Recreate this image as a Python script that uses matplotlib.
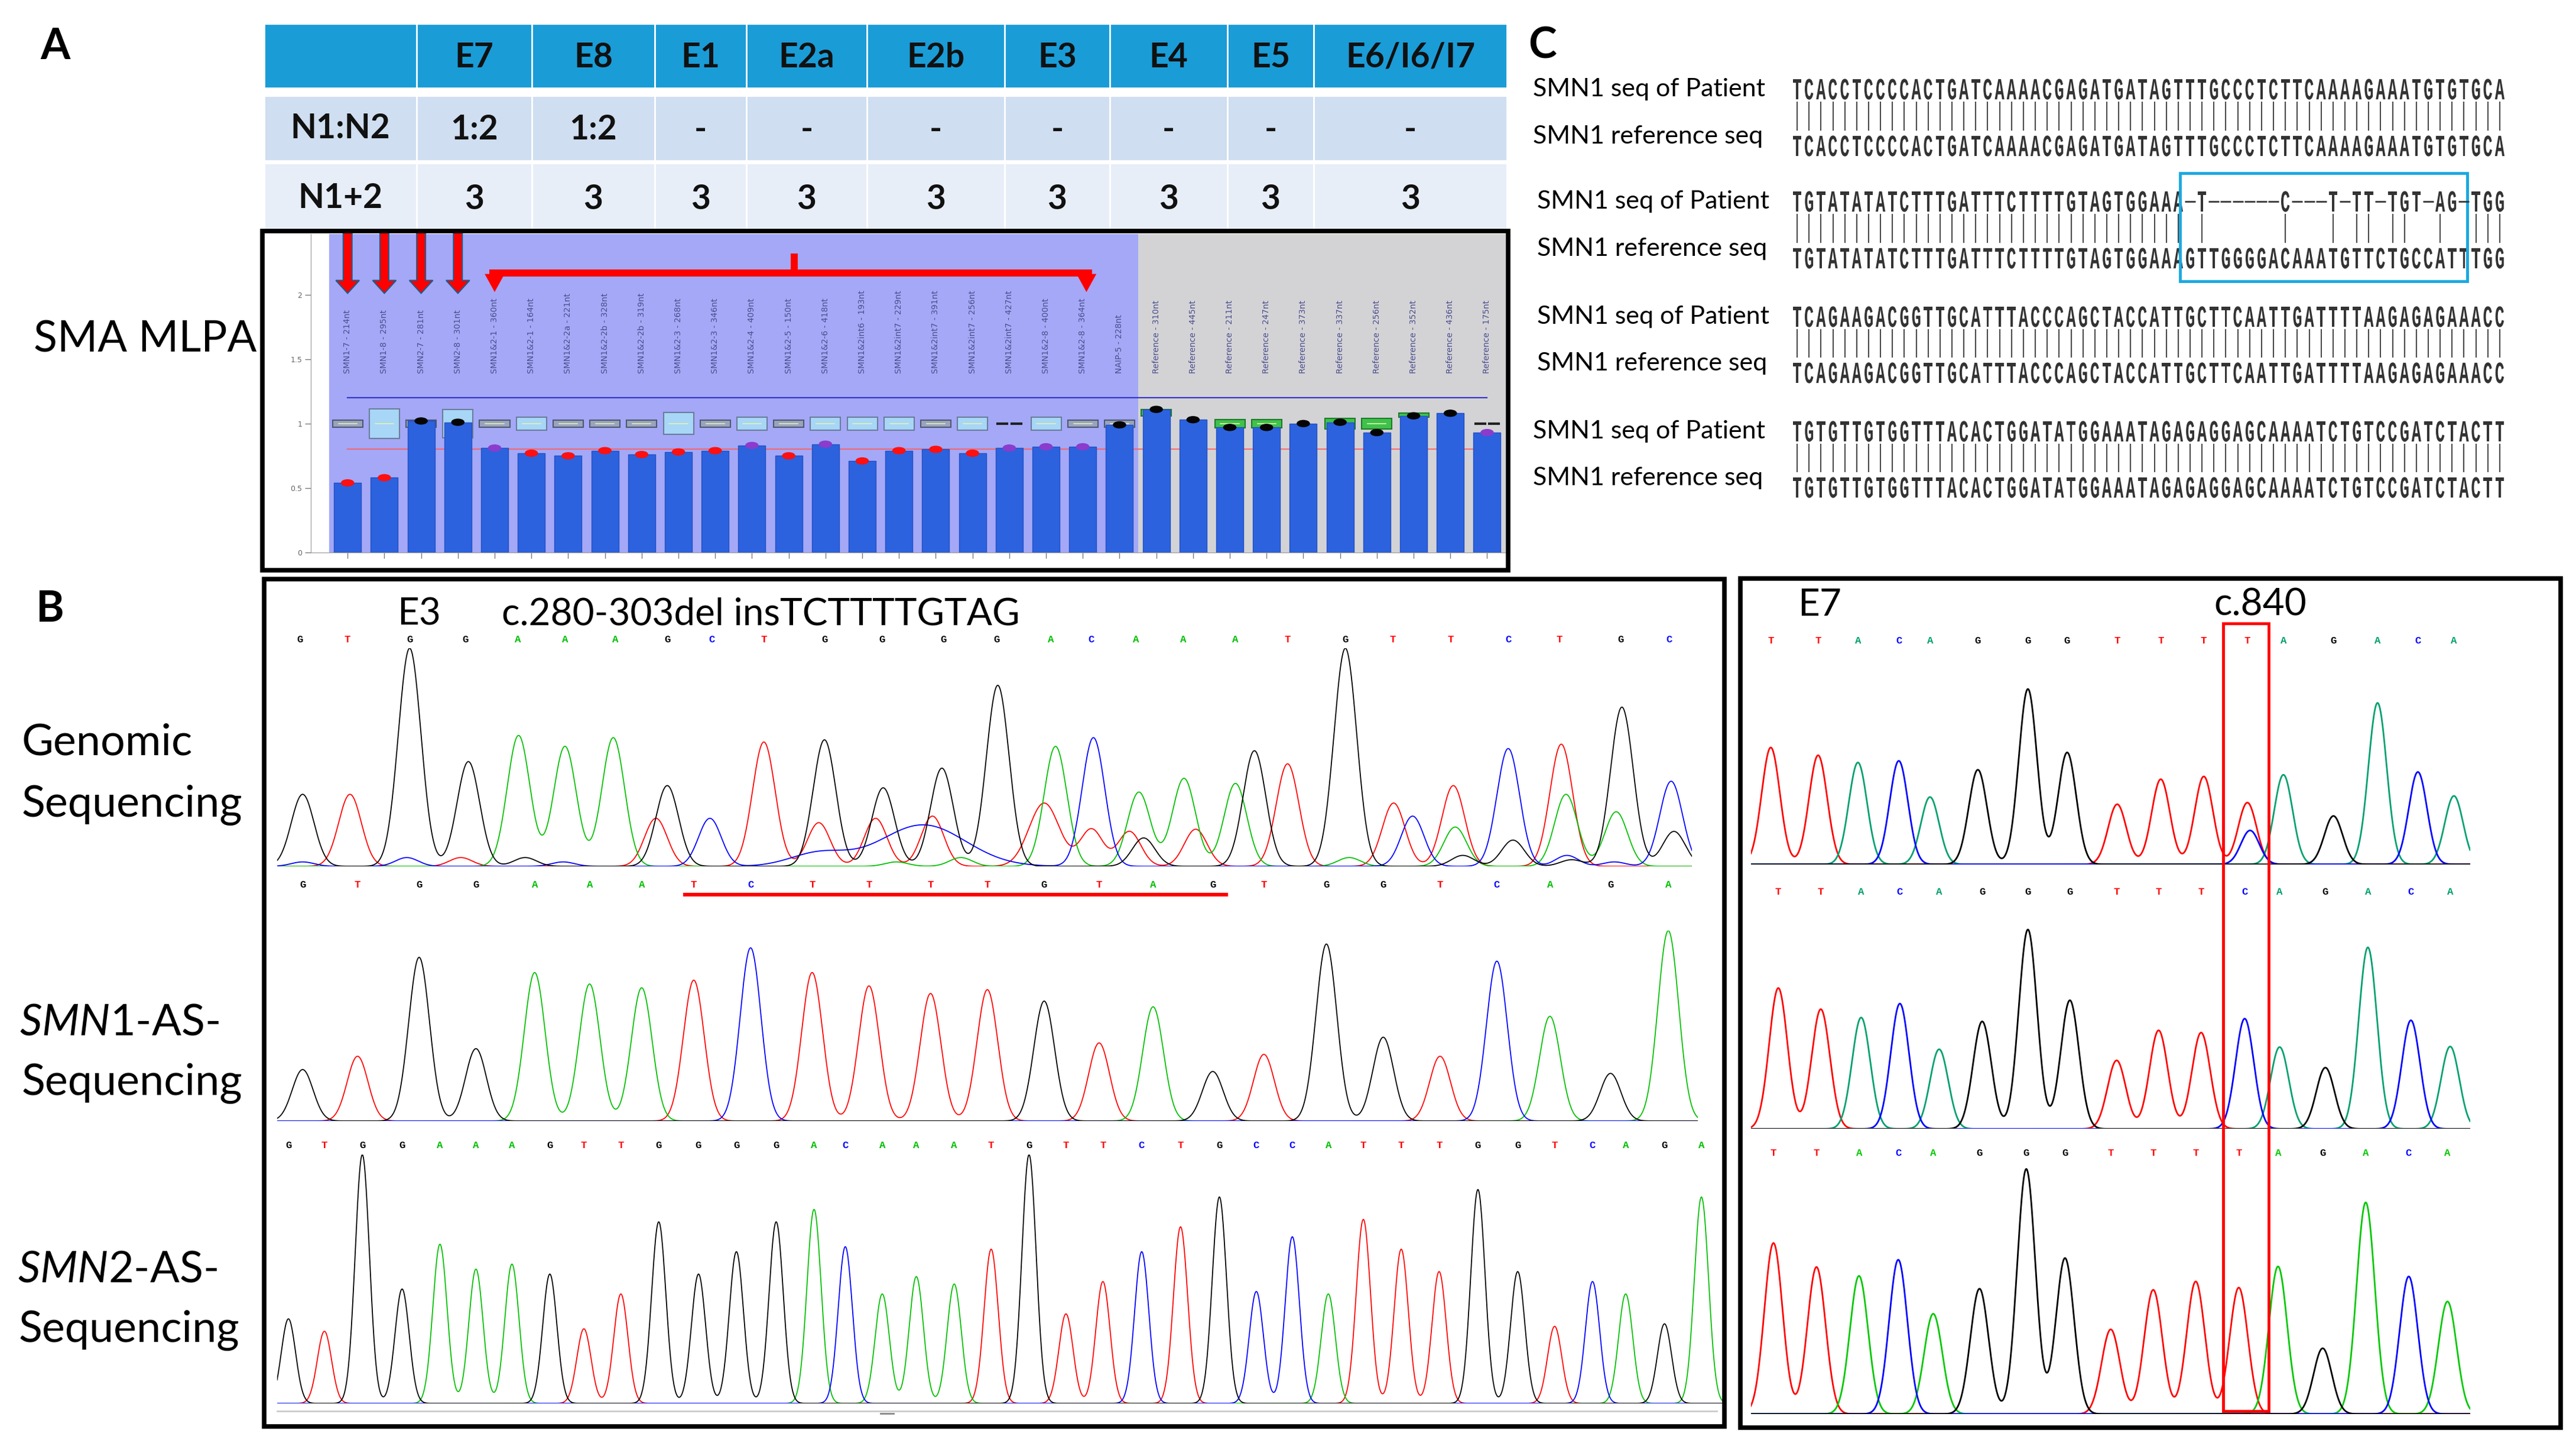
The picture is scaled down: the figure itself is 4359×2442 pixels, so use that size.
import numpy as np
import matplotlib.pyplot as plt
from matplotlib.patches import Rectangle, Polygon, PathPatch, Ellipse
from matplotlib.textpath import TextPath
from matplotlib.font_manager import FontProperties
from matplotlib.transforms import Affine2D

plt.rcParams['font.family'] = ['Lato', 'DejaVu Sans']
plt.rcParams['mathtext.fontset'] = 'custom'
plt.rcParams['mathtext.it'] = 'Lato:italic'
plt.rcParams['mathtext.rm'] = 'Lato'

# ---------------- data ----------------
# A: copy number table
exons = ['E7', 'E8', 'E1', 'E2a', 'E2b', 'E3', 'E4', 'E5', 'E6/I6/I7']
n1_n2 = ['1:2', '1:2', '-', '-', '-', '-', '-', '-', '-']
n1_plus_n2 = ['3', '3', '3', '3', '3', '3', '3', '3', '3']

# A: MLPA ratios
probes = ['SMN1-7 - 214nt', 'SMN1-8 - 295nt', 'SMN2-7 - 281nt', 'SMN2-8 - 301nt',
          'SMN1&2-1 - 360nt', 'SMN1&2-1 - 164nt', 'SMN1&2-2a - 221nt', 'SMN1&2-2b - 328nt',
          'SMN1&2-2b - 319nt', 'SMN1&2-3 - 268nt', 'SMN1&2-3 - 346nt', 'SMN1&2-4 - 409nt',
          'SMN1&2-5 - 150nt', 'SMN1&2-6 - 418nt', 'SMN1&2int6 - 193nt', 'SMN1&2int7 - 229nt',
          'SMN1&2int7 - 391nt', 'SMN1&2int7 - 256nt', 'SMN1&2int7 - 427nt', 'SMN1&2-8 - 400nt',
          'SMN1&2-8 - 364nt', 'NAIP-5 - 228nt',
          'Reference - 310nt', 'Reference - 445nt', 'Reference - 211nt', 'Reference - 247nt',
          'Reference - 373nt', 'Reference - 337nt', 'Reference - 256nt', 'Reference - 352nt',
          'Reference - 436nt', 'Reference - 175nt']
ratio = [0.54, 0.58, 1.02, 1.01, 0.81, 0.77, 0.75, 0.79, 0.76, 0.78, 0.79, 0.83, 0.75, 0.84,
         0.71, 0.79, 0.80, 0.77, 0.81, 0.82, 0.82, 0.99, 1.11, 1.03, 0.97, 0.97, 1.00, 1.01,
         0.93, 1.06, 1.08, 0.93]
dot_kind = 'rrkkprrrrrrprprrrrpppk' + 'kkkkkkkkk' + 'p'
box_lo = [0.972, 0.885, 0.972, 0.89, 0.972, 0.95, 0.972, 0.972, 0.972, 0.915, 0.972, 0.95,
          0.972, 0.95, 0.95, 0.95, 0.972, 0.95, 1.0, 0.95, 0.972, 0.972,
          1.06, 1.0, 0.965, 0.965, 1.0, 0.96, 0.96, 1.05, 1.0, 1.0]
box_hi = [1.028, 1.115, 1.028, 1.11, 1.028, 1.05, 1.028, 1.028, 1.028, 1.085, 1.028, 1.05,
          1.028, 1.05, 1.05, 1.05, 1.028, 1.05, 1.0, 1.05, 1.028, 1.028,
          1.11, 1.0, 1.03, 1.03, 1.0, 1.04, 1.04, 1.08, 1.0, 1.0]
box_kind = 'gbgbgbgggbgbgbbbgbdbgg' + 'G-GG-GGG-d'
upper_limit = 1.2
lower_limit = 0.8

# B: genomic sequencing (mixed trace)
gen_calls = 'GTGGAAAGCTGGGGACAAATGTTCTGC'
gen_call_scan = [42, 92, 158, 217, 272, 322, 375, 430, 477, 532, 596, 657, 722, 778, 835, 878,
                 925, 975, 1030, 1085, 1146, 1196, 1257, 1318, 1372, 1437, 1488]
gen_base = list('GTGGAAATGCTTGTGCCTGAAGTATCTAGATAGTAGTCTAGCGTACGAGCGCCTGCAC')
gen_scan = [45, 95, 158, 220, 273, 322, 373, 418, 430, 475, 532, 590, 596, 650, 658, 590, 700,
            710, 720, 672, 740, 779, 828, 840, 878, 880, 918, 928, 933, 976, 988, 1030, 1050,
            1085, 1150, 1146, 1197, 1217, 1260, 1262, 1270, 1318, 1323, 1374, 1379, 1380, 1385,
            1432, 1438, 1490, 1493, 45, 155, 212, 280, 320, 965, 1430]
gen_h = [0.33, 0.33, 1.0, 0.48, 0.60, 0.55, 0.59, 0.22, 0.37, 0.22, 0.57, 0.20, 0.58, 0.22,
         0.36, 0.06, 0.19, 0.23, 0.45, 0.02, 0.04, 0.83, 0.29, 0.55, 0.17, 0.59, 0.16, 0.34,
         0.13, 0.39, 0.17, 0.38, 0.53, 0.47, 0.04, 1.0, 0.29, 0.23, 0.37, 0.18, 0.05, 0.54,
         0.12, 0.56, 0.33, 0.05, 0.03, 0.25, 0.73, 0.39, 0.16, 0.02, 0.04, 0.04, 0.04, 0.02,
         0.02, 0.02]
gen_w = [12] * len(gen_scan)
gen_w[15] = 30
gen_w[16] = 45
gen_w[22] = 16

# B: SMN1-AS sequencing
smn1_calls = 'GTGGAAATCTTTTGTAGTGGTCAGA'
smn1_scan = [45, 103, 168, 228, 290, 348, 403, 458, 518, 583, 643, 708, 768, 828, 886, 943,
             1006, 1060, 1126, 1186, 1246, 1306, 1362, 1426, 1487]
smn1_h = [0.27, 0.34, 0.86, 0.38, 0.78, 0.72, 0.70, 0.74, 0.91, 0.78, 0.71, 0.67, 0.69, 0.63,
          0.41, 0.60, 0.26, 0.35, 0.93, 0.44, 0.34, 0.84, 0.55, 0.25, 1.0]
smn1_ins = (447, 1022)  # inserted TCTTTTGTAG, underlined

# B: SMN2-AS sequencing
smn2_calls = 'GTGGAAAGTTGGGGACAAATGTTCTGCCATTTGGTCAGA'
smn2_scan = [30, 68, 108, 150, 190, 228, 266, 306, 342, 381, 421, 463, 503, 545, 585, 618, 657,
             693, 733, 772, 812, 851, 890, 931, 972, 1013, 1052, 1090, 1128, 1165, 1205, 1245,
             1286, 1328, 1367, 1407, 1442, 1483, 1522]
smn2_h = [0.34, 0.29, 1.0, 0.46, 0.64, 0.54, 0.56, 0.52, 0.30, 0.44, 0.73, 0.52, 0.61, 0.73,
          0.78, 0.63, 0.44, 0.51, 0.48, 0.62, 1.0, 0.36, 0.49, 0.61, 0.71, 0.83, 0.45, 0.67,
          0.44, 0.74, 0.62, 0.53, 0.86, 0.53, 0.31, 0.49, 0.44, 0.32, 0.83]

# B: exon 7, c.840
e7_gen_calls = 'TTACAGGGTTTTAGACA'
e7_gen_scan = [62, 150, 224, 300, 358, 447, 540, 613, 706, 787, 867, 948, 1015, 1108, 1190, 1265, 1332]
e7_gen_h = [210, 196, 183, 186, 121, 170, 315, 201, 108, 153, 158, 111, 161, 87, 290, 166, 123]
e7_gen_minor = ('C', 953, 61)
e7_smn1_calls = 'TTACAGGGTTTCAGACA'
e7_smn1_scan = [76, 155, 230, 302, 375, 455, 540, 618, 705, 783, 862, 943, 1008, 1093, 1172, 1252, 1325]
e7_smn1_h = [253, 215, 200, 225, 143, 193, 358, 231, 123, 177, 173, 198, 147, 110, 326, 195, 148]
e7_smn2_calls = 'TTACAGGGTTTTAGACA'
e7_smn2_scan = [67, 147, 226, 299, 364, 450, 537, 609, 694, 773, 852, 932, 1005, 1088, 1168, 1248, 1320]
e7_smn2_h = [307, 264, 248, 277, 180, 225, 440, 280, 152, 223, 238, 227, 265, 118, 380, 247, 202]

# C: alignment
pat_seqs = ['TCACCTCCCCACTGATCAAAACGAGATGATAGTTTGCCCTCTTCAAAAGAAATGTGTGCA',
            'TGTATATATCTTTGATTTCTTTTGTAGTGGAAA-T------C---T-TT-TGT-AG-TGG',
            'TCAGAAGACGGTTGCATTTACCCAGCTACCATTGCTTCAATTGATTTTAAGAGAGAAACC',
            'TGTGTTGTGGTTTACACTGGATATGGAAATAGAGAGGAGCAAAATCTGTCCGATCTACTT']
ref_seqs = ['TCACCTCCCCACTGATCAAAACGAGATGATAGTTTGCCCTCTTCAAAAGAAATGTGTGCA',
            'TGTATATATCTTTGATTTCTTTTGTAGTGGAAAGTTGGGGACAAATGTTCTGCCATTTGG',
            'TCAGAAGACGGTTGCATTTACCCAGCTACCATTGCTTCAATTGATTTTAAGAGAGAAACC',
            'TGTGTTGTGGTTTACACTGGATATGGAAATAGAGAGGAGCAAAATCTGTCCGATCTACTT']

# ---------------- figure ----------------
W, H = 4359, 2442
fig = plt.figure(figsize=(W / 100, H / 100), dpi=100)
cv = fig.add_axes([0, 0, 1, 1], zorder=10)
cv.set_xlim(0, W)
cv.set_ylim(H, 0)
cv.axis('off')
cv.patch.set_visible(False)


def px_axes(x0, y0, x1, y1, z=1):
    ax = fig.add_axes([x0 / W, 1 - y1 / H, (x1 - x0) / W, (y1 - y0) / H], zorder=z)
    return ax


# panel letters
cv.text(93, 80, 'A', fontsize=52, fontweight='bold', ha='center', va='center')
cv.text(84, 1032, 'B', fontsize=52, fontweight='bold', ha='center', va='center')
cv.text(2610, 78, 'C', fontsize=52, fontweight='bold', ha='center', va='center')

# ---- table ----
col_edges = [447, 705, 900, 1108, 1263, 1467, 1700, 1878, 2077, 2223, 2550]
rows = [(40, 149, '#1a9cd7'), (162, 272, '#cfdef0'), (276, 392, '#e8eef8')]
for (y0, y1, c) in rows:
    for j in range(len(col_edges) - 1):
        cv.add_patch(Rectangle((col_edges[j], y0), col_edges[j + 1] - col_edges[j], y1 - y0,
                               fc=c, ec='white', lw=2))
ccen = [(col_edges[j] + col_edges[j + 1]) / 2 for j in range(len(col_edges) - 1)]
tkw = dict(fontsize=41, fontweight='bold', ha='center', va='center', color='#111111')
for j, e in enumerate(exons):
    cv.text(ccen[j + 1], 97, e, **tkw)
    cv.text(ccen[j + 1], 219, n1_n2[j], **tkw)
    cv.text(ccen[j + 1], 338, n1_plus_n2[j], **tkw)
cv.text(ccen[0], 217, 'N1:N2', **tkw)
cv.text(ccen[0], 336, 'N1+2', **tkw)

# ---- left labels ----
lkw = dict(fontsize=53, ha='left', va='baseline', color='black')
cv.text(57, 596, 'SMA MLPA', **lkw)
cv.text(37, 1277, 'Genomic', **lkw)
cv.text(37, 1382, 'Sequencing', **lkw)
cv.text(33, 1752, r'$\mathit{SMN1}$-AS-', **lkw)
cv.text(37, 1853, 'Sequencing', **lkw)
cv.text(30, 2170, r'$\mathit{SMN2}$-AS-', **lkw)
cv.text(32, 2271, 'Sequencing', **lkw)

# ---- MLPA plot ----
cv.add_patch(Rectangle((444, 391), 2108, 574, fill=False, ec='black', lw=5.5))
ax = px_axes(526, 396, 2550, 935)
n = len(ratio)
xi = np.arange(n)
ax.set_xlim(-1.0, 31.54)
ax.set_ylim(0, 2.47)
ax.axvspan(-0.5, 21.5, color='#a4a8f6', lw=0, zorder=0)
ax.axvspan(21.5, 31.54, color='#d3d3d6', lw=0, zorder=0)
ax.plot([0, n - 1], [upper_limit] * 2, color='#3535c8', lw=1.6, zorder=1)
ax.plot([0, n - 1.4], [lower_limit] * 2, color='#ff5a5a', lw=1.6, alpha=0.8, zorder=1)
box_style = {'g': ('#9aa3bd', '#4e5870'), 'b': ('#a7d6f6', '#6a7c9a'), 'G': ('#3fc24b', '#1d7a28')}
for i in range(n):
    k = box_kind[i]
    if k in box_style:
        fc, ec = box_style[k]
        ax.add_patch(Rectangle((i - 0.41, box_lo[i]), 0.82, box_hi[i] - box_lo[i],
                               fc=fc, ec=ec, lw=1.5, zorder=2))
        ax.plot([i - 0.25, i + 0.25], [1.0, 1.0], color='#e4f2b0', lw=1.2, zorder=2)
    elif k == 'd':
        ax.plot([i - 0.32, i - 0.06], [1, 1], color='#202020', lw=3, zorder=2)
        ax.plot([i + 0.06, i + 0.32], [1, 1], color='#202020', lw=3, zorder=2)
ax.bar(xi, ratio, width=0.74, color='#2c62de', edgecolor='#2450c4', lw=1, zorder=3)
dot_colors = {'r': '#ff1010', 'k': '#050505', 'p': '#8a3ccc'}
for i in range(n):
    ax.add_patch(Ellipse((i, ratio[i]), 0.34, 0.05, color=dot_colors[dot_kind[i]], zorder=4))
for i, p in enumerate(probes):
    ax.text(i, 1.39, p, rotation=90, ha='center', va='bottom', fontsize=10,
            color='#4a4d8c', family='DejaVu Sans', zorder=2)
ax.set_yticks([0, 0.5, 1, 1.5, 2])
ax.set_yticklabels(['0', '0.5', '1', '1.5', '2'], family='DejaVu Sans', fontsize=9, color='#666666')
ax.set_xticks(xi)
ax.set_xticklabels([])
ax.tick_params(length=7, color='#777777', width=1)
for s in ['top', 'right']:
    ax.spines[s].set_visible(False)
for s in ['left', 'bottom']:
    ax.spines[s].set_color('#999999')


def down_arrow(x, y_top, y_tip, sw, hw, hl):
    pts = [(x - sw / 2, y_top), (x + sw / 2, y_top), (x + sw / 2, y_tip + hl), (x + hw / 2, y_tip + hl),
           (x, y_tip), (x - hw / 2, y_tip + hl), (x - sw / 2, y_tip + hl)]
    ax.add_patch(Polygon(pts, closed=True, fc='#ff0000', ec='#1f5c8a', lw=1.5, clip_on=False, zorder=6))


for i in range(4):
    down_arrow(i, 2.51, 2.01, 0.24, 0.64, 0.10)
ax.add_patch(Rectangle((3.85, 2.14), 16.4, 0.055, fc='#ff0000', ec='none', zorder=6))
for xb in [4.0, 20.1]:
    ax.add_patch(Polygon([(xb - 0.27, 2.16), (xb + 0.27, 2.16), (xb, 2.02)], fc='#ff0000', ec='none', zorder=6))
ax.add_patch(Rectangle((12.06, 2.18), 0.18, 0.14, fc='#ff0000', ec='none', zorder=6))

# ---- chromatograms ----
left_col = {'A': '#00c000', 'C': '#0000ff', 'G': '#000000', 'T': '#ff0000'}
right_col = {'A': '#00a070', 'C': '#0000ff', 'G': '#000000', 'T': '#ff0000'}
right_col3 = {'A': '#00c800', 'C': '#0000ff', 'G': '#000000', 'T': '#ff0000'}
letter_font = dict(family='Liberation Mono', fontweight='bold', fontsize=12.5, ha='center', va='center')


def draw_trace(ax, bases, scan, hts, widths, s0, s1, cols, lw):
    xs = np.linspace(s0, s1, 3000)
    for b in 'TACG':
        y = np.zeros_like(xs)
        for k in range(len(bases)):
            if bases[k] == b:
                y += hts[k] * np.exp(-0.5 * ((xs - scan[k]) / widths[k]) ** 2)
        ax.plot(xs, y, color=cols[b], lw=lw, solid_joinstyle='round')
    ax.set_xlim(s0, s1)
    ax.axis('off')
    ax.patch.set_visible(False)


def left_axes(s0, s1, top, base):
    return px_axes(440 + s0 / 0.624, top, 440 + s1 / 0.624, base, z=2)


# genomic
ax1 = left_axes(18, 1512, 1097, 1466)
draw_trace(ax1, gen_base, gen_scan, gen_h, gen_w, 18, 1512, left_col, 1.3)
ax1.set_ylim(0, 1)
for c, s in zip(gen_calls, gen_call_scan):
    ax1.text(s, 1.038, c, color=left_col[c], clip_on=False, **letter_font)

# SMN1-AS
ax2 = left_axes(18, 1518, 1575, 1897)
draw_trace(ax2, smn1_calls, smn1_scan, smn1_h, [11] * len(smn1_h), 18, 1518, left_col, 1.3)
ax2.set_ylim(0, 1)
for c, s in zip(smn1_calls, smn1_scan):
    ax2.text(s, 1.242, c, color=left_col[c], clip_on=False, **letter_font)
ax2.plot(smn1_ins, [1.19, 1.19], color='#ff0000', lw=4.5, clip_on=False, solid_capstyle='butt')

# SMN2-AS
ax3 = left_axes(18, 1545, 1954, 2375)
draw_trace(ax3, smn2_calls, smn2_scan, smn2_h, [7.5] * len(smn2_h), 18, 1545, left_col, 1.3)
ax3.set_ylim(0, 1)
for c, s in zip(smn2_calls, smn2_scan):
    ax3.text(s, 1.038, c, color=left_col[c], clip_on=False, **letter_font)
cv.plot([469, 2905], [2388, 2388], color='#cccccc', lw=2)
cv.plot([1490, 1512], [2392, 2392], color='#888888', lw=2)


def right_axes(s0, s1, base_zy):
    base = 970 + base_zy / 1.0612
    return px_axes(2940 + s0 / 1.0986, base - 480 / 1.0612, 2940 + s1 / 1.0986, base, z=2)


e7_sets = [(e7_gen_calls, e7_gen_scan, e7_gen_h, 523, 122, right_col),
           (e7_smn1_calls, e7_smn1_scan, e7_smn1_h, 998, 573, right_col),
           (e7_smn2_calls, e7_smn2_scan, e7_smn2_h, 1510, 1042, right_col3)]
for idx, (calls, scan, hts, base_zy, let_zy, cols) in enumerate(e7_sets):
    axr = right_axes(25, 1362, base_zy)
    b = list(calls)
    sc = list(scan)
    hh = list(hts)
    if idx == 0:
        b.append(e7_gen_minor[0])
        sc.append(e7_gen_minor[1])
        hh.append(e7_gen_minor[2])
    draw_trace(axr, b, sc, hh, [17] * len(hh), 25, 1362, cols, 2.0)
    axr.set_ylim(0, 480)
    for c, s in zip(calls, scan):
        axr.text(s, base_zy - let_zy, c, color=cols[c], clip_on=False, **letter_font)

# B annotations and frames
cv.text(672, 1040, 'E3', fontsize=46, ha='left', va='center')
cv.text(849, 1040, 'c.280-303del insTCTTTTGTAG', fontsize=46, ha='left', va='center')
cv.text(3042, 1024, 'E7', fontsize=46, ha='left', va='center')
cv.text(3746, 1024, 'c.840', fontsize=46, ha='left', va='center')
cv.add_patch(Rectangle((447, 980), 2471, 1434, fill=False, ec='black', lw=5.5))
cv.add_patch(Rectangle((2945, 979), 1388, 1437, fill=False, ec='black', lw=5.5))
cv.add_patch(Rectangle((3762, 1055), 77, 1333, fill=False, ec='#ff0000', lw=3.5))

# ---- C: alignment ----
seq_x0, pitch = 3031, 20.15
seq_col = '#333333'
mono = FontProperties(family='Liberation Mono', weight='bold')
cap = TextPath((0, 0), 'T', size=52, prop=mono).get_extents().height


def draw_seq(s, yc):
    for i, ch in enumerate(s):
        xc = seq_x0 + (i + 0.5) * pitch
        if ch == '-':
            cv.plot([xc - 9, xc + 9], [yc, yc], color=seq_col, lw=2.0, solid_capstyle='butt')
            continue
        tp = TextPath((0, 0), ch, size=52, prop=mono)
        bb = tp.get_extents()
        tr = Affine2D().translate(-(bb.x0 + bb.x1) / 2, -cap / 2).scale(0.52, -1).translate(xc, yc)
        cv.add_patch(PathPatch(tr.transform_path(tp), fc=seq_col, ec='none'))


pat_y = [151, 341, 536, 730]
ref_y = [247, 437, 631, 825]
lab_x = [2594, 2601, 2601, 2594]
for r in range(4):
    draw_seq(pat_seqs[r], pat_y[r])
    draw_seq(ref_seqs[r], ref_y[r])
    for i in range(len(ref_seqs[r])):
        if pat_seqs[r][i] == ref_seqs[r][i]:
            xc = seq_x0 + (i + 0.5) * pitch
            cv.plot([xc, xc], [pat_y[r] + 22, ref_y[r] - 27], color='#4a4a4a', lw=1.5)
    cv.text(lab_x[r], pat_y[r] + 12, 'SMN1 seq of Patient', fontsize=31, ha='left', va='baseline')
    cv.text(lab_x[r], ref_y[r] - 4, 'SMN1 reference seq', fontsize=31, ha='left', va='baseline')
cv.add_patch(Rectangle((3689, 293), 486, 183, fill=False, ec='#1aa8e0', lw=3.5))

fig.savefig('out.png', dpi=100)
